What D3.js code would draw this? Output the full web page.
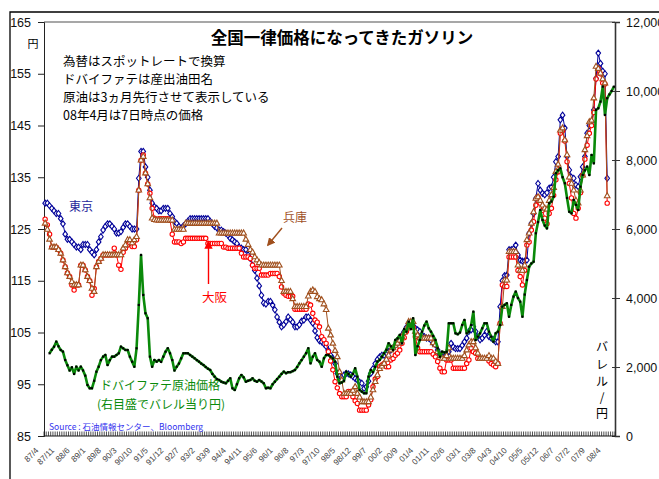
<!DOCTYPE html>
<html><head><meta charset="utf-8">
<script src="https://cdn.jsdelivr.net/npm/d3@7"></script>
<style>
html,body{margin:0;padding:0;background:#fff;}
svg{display:block;}
.jp{font-family:"Noto Sans CJK JP","Noto Sans",sans-serif;}
.num{font-family:"Liberation Sans",Arial,sans-serif;}
</style></head>
<body>
<svg id="c" width="659" height="479"></svg>
<script>
// ---- DATA ----
const startYear = 1987, startMonth = 4, nCategories = 256;
const tickLabels = ["87/4","87/11","88/6","89/1","89/8","90/3","90/10","91/5","91/12","92/7","93/2","93/9","94/4","94/11","95/6","96/1","96/8","97/3","97/10","98/5","98/12","99/7","00/2","00/9","01/4","01/11","02/6","03/1","03/8","04/3","04/10","05/5","05/12","06/7","07/2","07/9","08/4"];
const tokyo = [
130,130,129.5,129,128.5,128,128,127,126,124,123,123,
122.5,122,121.5,121.5,121,122,122,122,121,120.5,120,121,
122.5,123.5,124.8,125.5,126,126,125.5,125,124.2,124.2,124.5,125.3,
126,126,125.5,125,125,125,134.8,140,140,137,135,132.5,
130,129.3,129,128.5,128.5,129,129,129,128,127.4,126.5,126.1,
125.5,125.2,125.6,126,126.5,127,127,127,127,127,127,127,
127,127,126.5,126,125.5,125.2,124.8,124.8,124.5,124.2,123.8,123.2,
122.9,122.5,122.2,121.5,121.3,121,121,120,119.3,118,117,115.5,
114,112.2,110.7,110.5,111,111,110.3,109.4,108,107,106.1,106.5,
107.1,108,107.5,107,106.1,106.1,106.5,107.2,107.4,108,108,107.4,
106.8,105.3,104,103.4,103.2,102.8,102.3,101.5,100.6,100,99,97.1,
96.6,96.4,96.8,97.1,97,96.8,96.5,96.1,95.8,95.4,95.2,94.2,
94.5,95.6,97.1,98,99,99.8,100.3,100.6,100.6,101,101.3,101.6,
102,102.5,102.9,103.6,104.5,105.2,106,106.8,106.8,106.8,105.8,105.5,
105.2,104.5,104.2,103.9,103.9,103.5,102.9,102.6,101.6,100.8,100.3,100.3,
100.8,101.3,102.9,102.2,101.9,101.9,101.9,102.5,103.2,103.9,105.2,105.5,
106.1,105.2,104.2,103.6,103.9,104.5,105.2,104.2,103.9,103.6,103.2,103.2,
110,115,116,116.1,121,121,121.2,121.9,120,119,118.8,118.8,
119,124.2,126.1,128,130.9,133.8,132.5,131.9,131.6,132,132.9,133.1,
135,138,139,146.1,147,144.5,139,136.4,135,134.8,133.5,133.2,
135.1,137,139,143.5,145,145.7,148,154.1,159,157,155.5,155,
134.8];
const osaka = [
126.9,125.8,124,121.5,121.5,121.5,121,120.3,119,117.7,116.5,115.8,
114.2,113.2,114.2,114.2,118,118,117.1,115.8,115,112.2,113.5,117.7,
118.7,119.3,120,120,120,120,120,121.3,120,118,117.2,120.5,
121.3,121.9,122.3,121.6,121.6,122.9,132.5,138.3,139.3,135.8,133.7,131.9,
129,127.1,126.8,127,127,127,127,127,126.7,124,122.5,122.5,
122.5,122.2,122.5,123.2,123.2,123.2,123.2,123.2,123.2,123.2,123.2,123.2,
123.2,122.2,122.2,122.2,122.2,122.2,122.2,122.2,121.5,121.5,121.3,121.3,
121.3,121.3,121.3,121.3,120.3,119.6,119.6,119.6,119.3,118,117.4,117.4,
117.4,116.1,116.1,116.1,116.1,116.4,116.4,116.4,116.4,115.8,113.8,112.6,
112.2,112,112,112,109.5,109.5,109.5,109.5,109.5,109.5,110.5,110.3,
108.7,107.4,107,106.1,104.2,103.6,102.9,101.3,99.5,97.8,95.5,94.3,
93.2,92.6,92.6,92.6,93.6,93.6,92.6,91.8,91.3,90,90,90,
90,91,92,94.5,96,96.5,98.4,98.7,99,98.4,98.4,99.7,
100,100.6,101,101.6,102.9,104,105.2,106.1,106.1,106,104.2,102,
101.3,101.3,101.3,101.3,101.3,101.3,100.8,100.3,99.4,98.1,97.4,97.4,
99.7,99.7,99.7,98.1,98.1,98.1,98.1,98.1,98.1,99,99.7,102,
101.3,101,100,100,100,100,100,99.5,99,98.7,98.4,99,
106.8,114.2,113.9,113.9,119.6,119.6,119.6,119.6,117,115.8,114.2,117,
121.9,122.5,124.8,126.4,129.6,131.2,130,128.6,127.1,126,128,129,
131.5,134.5,136,143.5,144,142,138,133.8,131,128,127.1,129,
132,135.4,138.5,141.2,143.5,145,147.5,154,156,155,153.2,153,
130];
const hyogo = [
126.1,124.9,123,121.5,121.5,121.5,121,120.3,119,117.7,116.5,115.8,
114.8,114.2,114.2,114.2,118,118,117.1,115.8,115,113.5,112.9,117.7,
118.7,119.3,120,120,120,120,120,120,120,120,120,121.3,
121.9,122.9,122.9,122.3,122.9,123.5,132.5,138.3,139,135.8,133.7,131,
127.1,126.8,126.7,126.7,126.7,126.7,126.7,126.7,126.7,126.7,124.9,124.9,
124.9,124.9,124.9,126.1,126.1,126.1,126.1,126.1,126.1,126.1,126.1,126.1,
126.1,126.1,126.1,126.1,126.1,126.1,124.2,124.2,124.2,124.2,124.2,124.2,
124.2,124.2,124.2,124.2,124.2,124.2,123,122,121,120.5,119.6,119,
118.5,118,118,118,118,118,118,118,118,118,115,112.9,
112.9,112.9,112.9,111.5,110,110,110,110,110,110,112,112.9,
113.2,112.9,111.9,111.5,111.3,110.5,109.4,105.8,104.5,102.9,101.5,100.3,
97.4,95.8,93.2,93.2,93.2,93.2,93.8,94.5,93.2,92.5,91.6,91.6,
91.6,91.6,92.5,93.9,95.5,96.8,98,98.5,99,99.8,100.6,101.6,
102,102.5,102.9,103.5,104.2,105,105.8,107.1,107.1,107.1,105.2,104.5,
103.9,103.9,103.9,103.9,103.9,103.9,103,102.6,101.3,100.5,100,100,
100.5,102,100,100,100,100,100,100,100.5,101.6,102.6,103.2,
103.2,102,101,100,100,100,100,100.5,100,100,99.4,99,
106.8,110,115.1,115.1,120.6,120.6,120.6,120.6,118,117,117,118,
122.9,124.2,126.1,128.3,130.9,131.2,130.5,129.6,129,128.8,130.5,131.6,
133,136.1,137.5,144.1,144.5,142.2,139.3,135,133.8,132.5,130.5,130,
132.5,135.4,140.3,143,145.7,146,150.3,156.4,156,155.1,154,153.2,
131.4];
const dubai = [
null,null,2397,2500,2589,2734,2600,2493,2445,2203,2050,1900,
1990,1800,2009,1900,2009,1900,1750,1478,1383,1383,1600,1864,
2009,2200,2300,2348,2058,2200,2300,2300,2348,2397,2589,2542,
2493,2493,2300,2155,2009,2542,3798,5247,4088,3557,3412,2300,
2009,2203,2155,2203,2150,2300,2445,2542,2397,2200,1900,2009,
2100,2250,2397,2400,2397,2348,2300,2252,2200,2155,2100,2058,
2000,1950,1913,1800,1720,1650,1623,1575,1550,1528,1600,1672,
1383,1335,1500,1672,1768,1700,1575,1600,1623,1672,1600,1575,
1623,1580,1528,1383,1400,1383,1500,1574,1650,1720,1800,1864,
1820,1850,1850,1880,1913,2000,2107,2200,2300,2400,2542,2107,
2300,2397,2203,2155,2009,2252,2348,2348,2300,2250,2155,1720,
1528,1550,1600,1864,1800,1720,1800,1962,1720,1334,1286,1238,
1238,1720,1913,1850,2000,2155,2203,2300,2397,2500,2687,2600,
2493,2783,2831,2928,2687,3100,3024,3313,3100,3412,2348,2600,
2783,3024,3200,3313,3121,3024,2900,2783,2542,2300,2445,2420,
2445,3267,3267,3267,2976,2950,3000,3217,3363,2976,3024,3217,
3603,2783,2880,2976,3121,3267,3267,3024,2879,2734,2977,3024,
3218,3748,3800,3847,3459,3800,4040,4184,4000,3893,3459,4100,
4522,4908,5000,5053,5876,6200,6552,6262,6100,6020,6745,6800,
6937,7616,7700,7760,7500,7326,6900,6500,6455,6841,6700,6552,
7227,7566,7700,7807,7566,8146,7905,9451,9500,9692,10126,9306,
9790,9900,10000,10126];
const leftTicks = [85,95,105,115,125,135,145,155,165];
const rightTicks = [0,2000,4000,6000,8000,10000,12000];

// categories (monthly) 87/4 ... 08/7
const categories = d3.range(nCategories).map(i => {
  const m = startMonth - 1 + i;
  const y = (startYear + Math.floor(m / 12)) % 100;
  return String(y).padStart(2, "0") + "/" + (m % 12 + 1);
});

// ---- CHART ----
const svg = d3.select("#c");
const L = 44, R = 615, T = 22, B = 436;
const x = d3.scalePoint().domain(categories).range([L, R]).padding(0.5);
const step = x.step();
const yL = d3.scaleLinear().domain([85, 165]).range([B, T]);
const yR = d3.scaleLinear().domain([0, 12000]).range([B, T]);

svg.append("rect").attr("width", 659).attr("height", 479).attr("fill", "#fff");
// outer frame
svg.append("path").attr("d", "M10,479V12H659").attr("fill", "none").attr("stroke", "#000").attr("stroke-width", 1.3);

// plot frame
svg.append("line").attr("x1", L).attr("x2", R).attr("y1", T).attr("y2", T).attr("stroke", "#8a8a8a").attr("stroke-width", 1.6);

// left axis
const gL = svg.append("g").attr("transform", `translate(${L},0)`)
  .call(d3.axisLeft(yL).tickValues(leftTicks).tickSize(6).tickPadding(7).tickFormat(d3.format("d")));
gL.select(".domain").attr("stroke", "#222");
gL.selectAll(".tick line").attr("stroke", "#222");
gL.selectAll("text").attr("class", "num").attr("font-size", 12.5).attr("fill", "#111");

// right axis
const gR = svg.append("g").attr("transform", `translate(${R},0)`)
  .call(d3.axisRight(yR).tickValues(rightTicks).tickSize(5).tickPadding(6).tickFormat(d3.format(",")));
gR.select(".domain").attr("stroke", "#333").attr("stroke-width", 1.6);
gR.selectAll(".tick line").attr("stroke", "#333").attr("x1", -3);
gR.selectAll("text").attr("class", "num").attr("font-size", 12.5).attr("fill", "#111");

// x axis with monthly hatch ticks
svg.append("line").attr("x1", L).attr("x2", R).attr("y1", B).attr("y2", B).attr("stroke", "#111").attr("stroke-width", 1.2);
svg.append("g").selectAll("line").data(d3.range(nCategories + 1)).join("line")
  .attr("x1", i => L + i * step).attr("x2", i => L + i * step)
  .attr("y1", B - 4.5).attr("y2", B).attr("stroke", "#222").attr("stroke-width", 0.8);
svg.append("g").selectAll("text").data(tickLabels).join("text")
  .attr("class", "num").attr("font-size", 8.3).attr("fill", "#444")
  .attr("text-anchor", "end")
  .attr("transform", d => `translate(${x(d) - 6},451) rotate(-45)`)
  .text(d => d);

// series
function drawSeries(data, color, shape) {
  const line = d3.line().defined(d => d != null)
    .x((d, i) => x(categories[i])).y(d => yL(d));
  svg.append("path").datum(data).attr("d", line).attr("fill", "none")
    .attr("stroke", color).attr("stroke-width", 1);
  const g = svg.append("g");
  const pts = data.map((v, i) => ({v, i})).filter(d => d.v != null);
  g.selectAll("path").data(pts).join("path")
    .attr("transform", d => `translate(${x(categories[d.i])},${yL(d.v)})`)
    .attr("d", shape).attr("fill", "#fff").attr("stroke", color).attr("stroke-width", 1.1);
}
const diamond = "M0,-3L2.3,0L0,3L-2.3,0Z";
const circle = d3.symbol(d3.symbolCircle, 15)();
const triangle = "M0,-3.2L2.8,1.8L-2.8,1.8Z";
drawSeries(tokyo, "#000099", diamond);
drawSeries(osaka, "#ff0000", circle);
drawSeries(hyogo, "#a0501e", triangle);

// crude oil (right axis)
const lineR = d3.line().defined(d => d != null).x((d, i) => x(categories[i])).y(d => yR(d));
svg.append("path").datum(dubai).attr("d", lineR).attr("fill", "none")
  .attr("stroke", "#0a8a0a").attr("stroke-width", 2.6).attr("stroke-linejoin", "round");
svg.append("g").selectAll("rect").data(dubai.map((v, i) => ({v, i})).filter(d => d.v != null)).join("rect")
  .attr("x", d => x(categories[d.i]) - 1.1).attr("y", d => yR(d.v) - 1.1)
  .attr("width", 2.2).attr("height", 2.2).attr("fill", "#000");

// ---- TEXT ----
svg.append("text").attr("class", "jp").attr("x", 342).attr("y", 44).attr("text-anchor", "middle")
  .attr("font-size", 16.5).attr("font-weight", "bold").attr("fill", "#000").text("全国一律価格になってきたガソリン");
const notes = ["為替はスポットレートで換算", "ドバイファテは産出油田名", "原油は3ヵ月先行させて表示している", "08年4月は7日時点の価格"];
svg.append("g").selectAll("text").data(notes).join("text").attr("class", "jp")
  .attr("x", 63).attr("y", (d, i) => 66 + i * 18).attr("font-size", 12.5).attr("fill", "#000").text(d => d);

svg.append("text").attr("class", "jp").attr("x", 33).attr("y", 48).attr("text-anchor", "middle")
  .attr("font-size", 11).attr("fill", "#000").text("円");

svg.append("text").attr("class", "jp").attr("x", 69).attr("y", 211).attr("font-size", 12).attr("fill", "#1f1f9a").text("東京");
svg.append("text").attr("class", "jp").attr("x", 283).attr("y", 222).attr("font-size", 12).attr("fill", "#a0501e").text("兵庫");
svg.append("text").attr("class", "jp").attr("x", 202).attr("y", 302).attr("font-size", 12.5).attr("fill", "#ff0000").text("大阪");

// arrows
const defs = svg.append("defs");
function marker(id, color) {
  defs.append("marker").attr("id", id).attr("viewBox", "0 0 10 10").attr("refX", 8).attr("refY", 5)
    .attr("markerWidth", 6).attr("markerHeight", 6).attr("orient", "auto")
    .append("path").attr("d", "M0,0L10,5L0,10Z").attr("fill", color);
}
marker("ar", "#ff0000"); marker("ab", "#a0501e");
svg.append("line").attr("x1", 208.5).attr("y1", 284).attr("x2", 208.5).attr("y2", 242)
  .attr("stroke", "#ff0000").attr("stroke-width", 1.4).attr("marker-end", "url(#ar)");
svg.append("line").attr("x1", 282).attr("y1", 228).attr("x2", 268).attr("y2", 245)
  .attr("stroke", "#a0501e").attr("stroke-width", 1.4).attr("marker-end", "url(#ab)");

svg.append("text").attr("class", "jp").attr("x", 100).attr("y", 390).attr("font-size", 12).attr("fill", "#0a8a0a").text("ドバイファテ原油価格");
svg.append("text").attr("class", "jp").attr("x", 97).attr("y", 409).attr("font-size", 12).attr("fill", "#0a8a0a").text("(右目盛でバレル当り円)");

svg.append("text").attr("class", "jp").attr("x", 49).attr("y", 430).attr("font-size", 8.5).attr("fill", "#3333ee").text("Source : 石油情報センター、Bloomberg");

const vlab = ["バ", "レ", "ル", "/", "円"];
const vy = [351, 369, 386, 402, 418];
svg.append("g").selectAll("text").data(vlab).join("text").attr("class", "jp")
  .attr("x", 602).attr("y", (d, i) => vy[i]).attr("text-anchor", "middle").attr("font-size", 12).attr("fill", "#000").text(d => d);
</script>
</body></html>
